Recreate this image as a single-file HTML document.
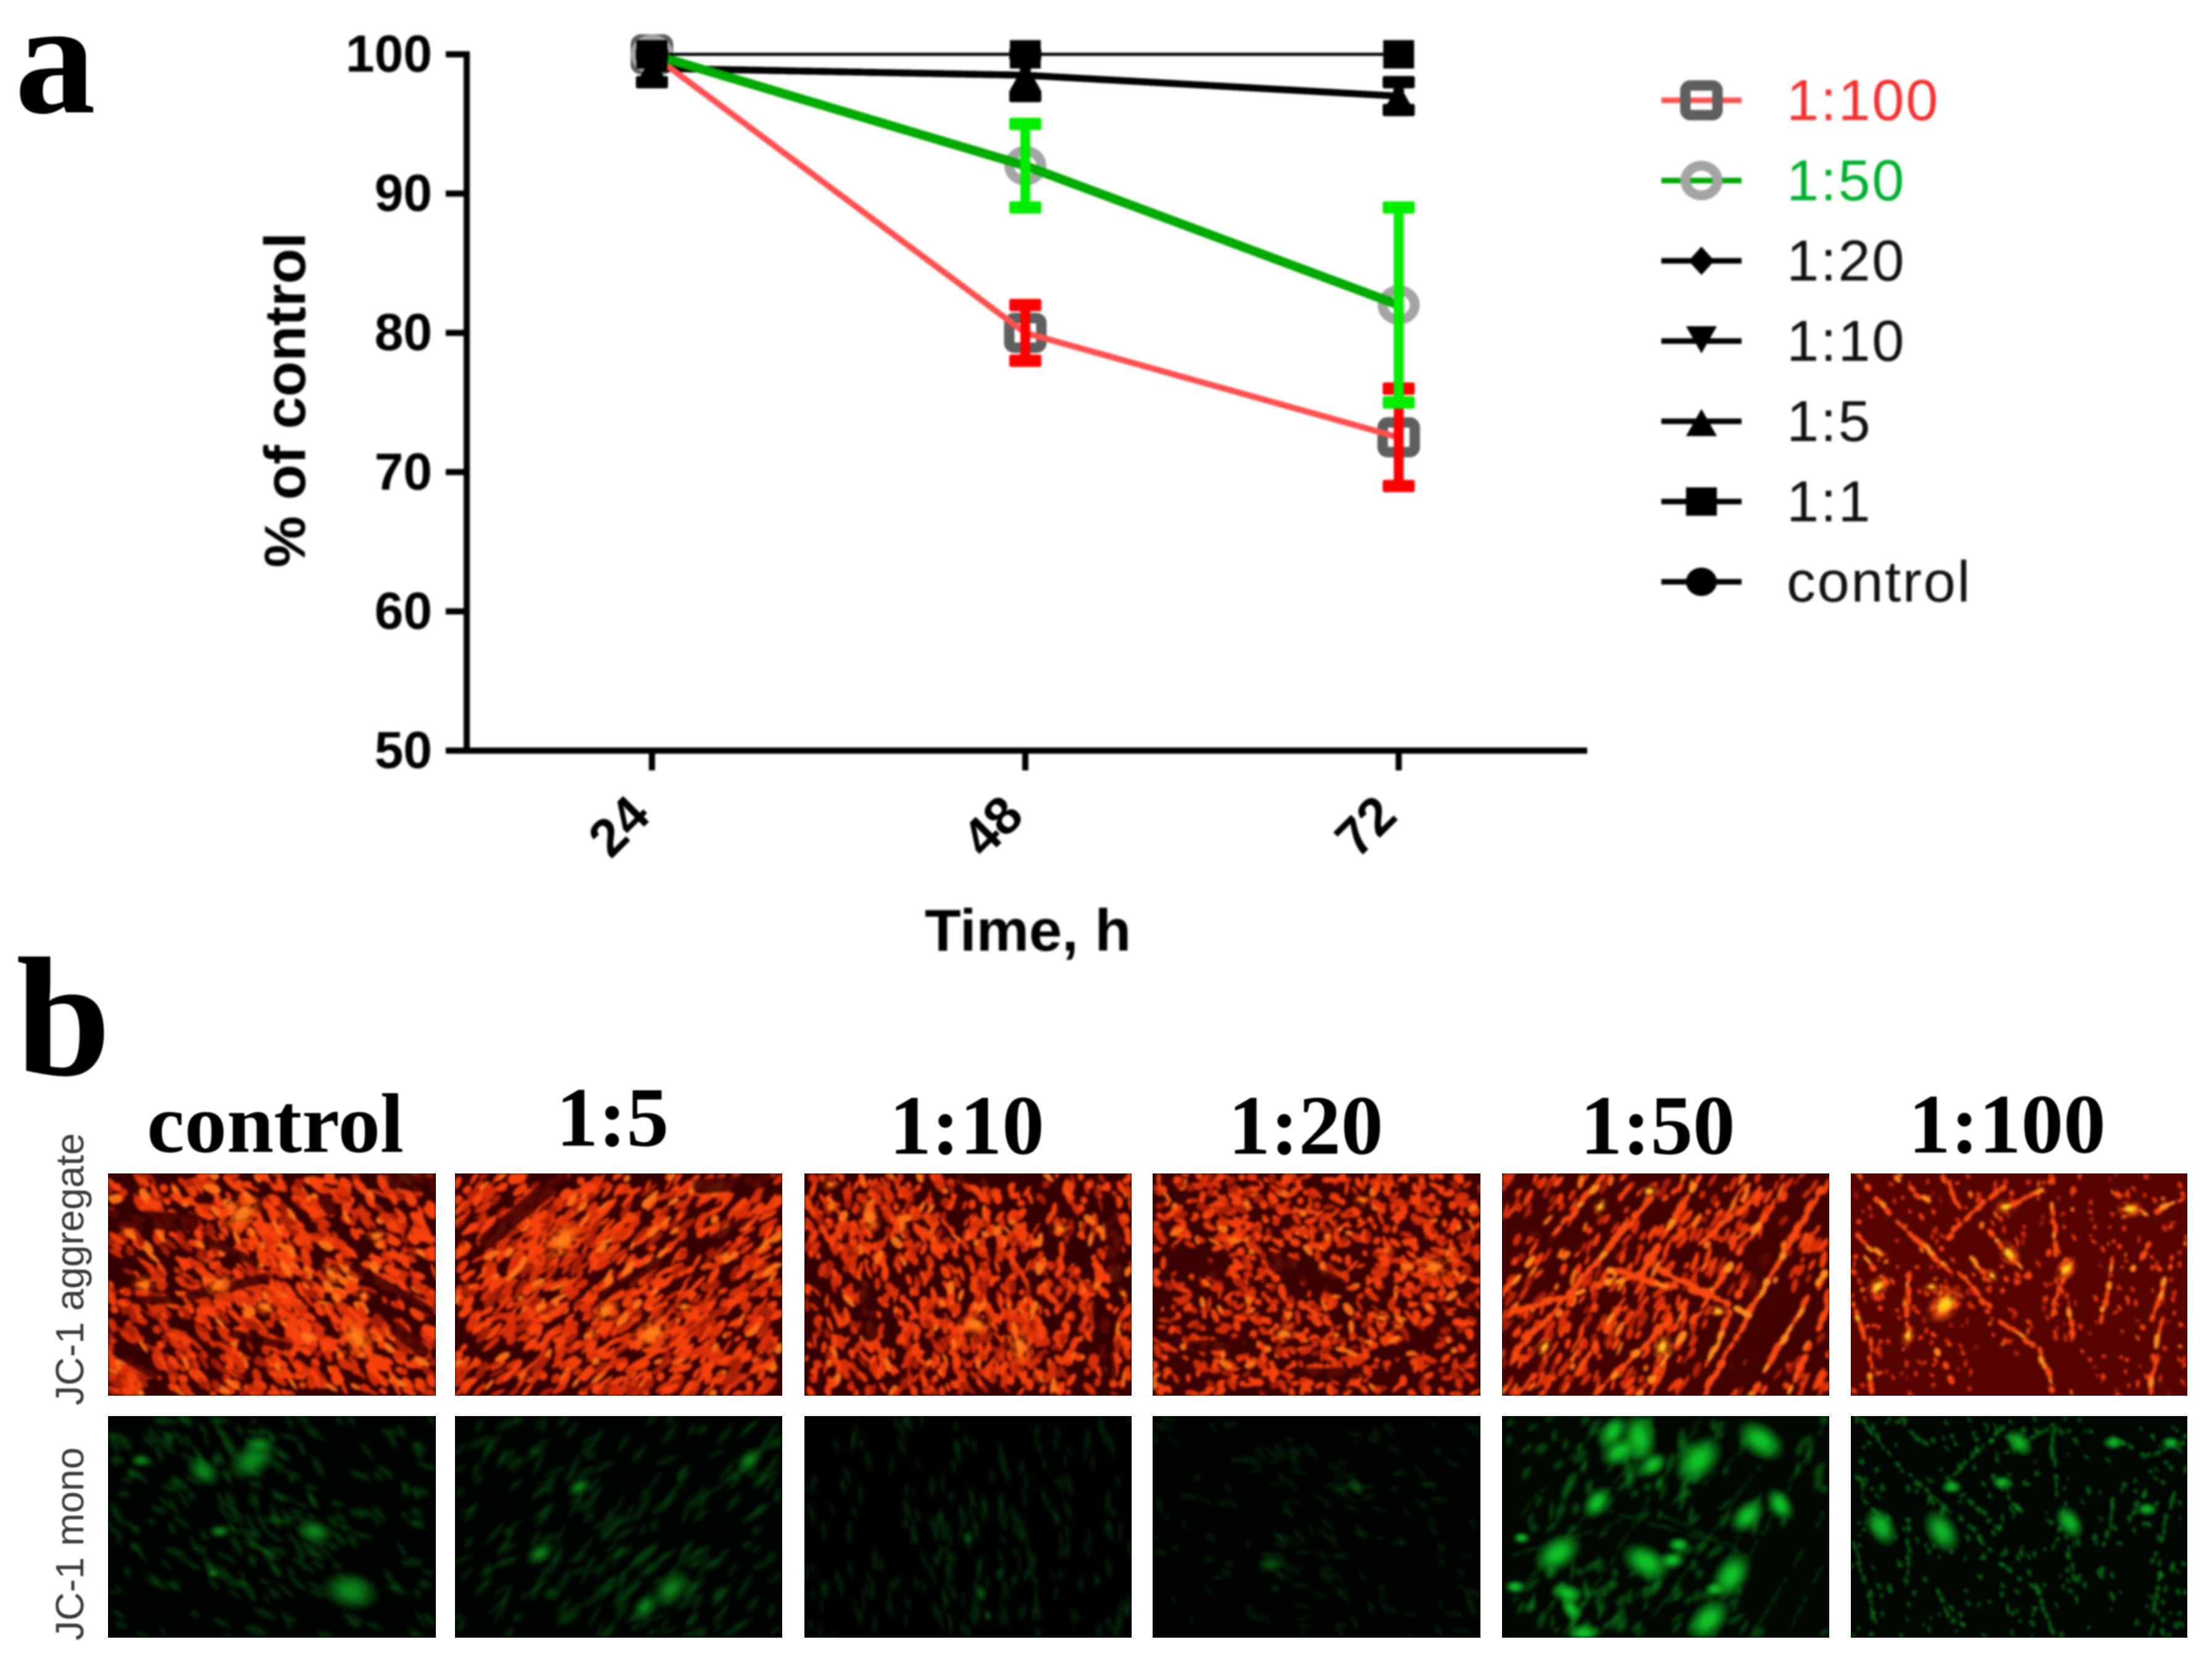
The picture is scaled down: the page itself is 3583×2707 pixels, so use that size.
<!DOCTYPE html>
<html lang="en">
<head>
<meta charset="utf-8">
<title>JC-1 mitochondrial potential chart and micrographs</title>
<style>
html,body{margin:0;padding:0;background:#fff;}
#page{position:relative;width:3583px;height:2707px;overflow:hidden;background:#fff;}
#chart,#labels{position:absolute;left:0;top:0;}
#chart{filter:blur(1.5px);}
#labels{filter:blur(1px);}
canvas{position:absolute;display:block;}
</style>
</head>
<body>
<div id="page">
<svg id="chart" width="3583" height="1620" viewBox="0 0 3583 1620" xmlns="http://www.w3.org/2000/svg"></svg>

<canvas class="mg" style="left:175px;top:1901px" width="531" height="360"></canvas>
<canvas class="mg" style="left:737px;top:1901px" width="530" height="360"></canvas>
<canvas class="mg" style="left:1303px;top:1901px" width="530" height="360"></canvas>
<canvas class="mg" style="left:1867px;top:1901px" width="531" height="360"></canvas>
<canvas class="mg" style="left:2433px;top:1901px" width="530" height="360"></canvas>
<canvas class="mg" style="left:2998px;top:1901px" width="545" height="360"></canvas>
<canvas class="mg" style="left:175px;top:2294px" width="531" height="359"></canvas>
<canvas class="mg" style="left:737px;top:2294px" width="530" height="359"></canvas>
<canvas class="mg" style="left:1303px;top:2294px" width="530" height="359"></canvas>
<canvas class="mg" style="left:1867px;top:2294px" width="531" height="359"></canvas>
<canvas class="mg" style="left:2433px;top:2294px" width="530" height="359"></canvas>
<canvas class="mg" style="left:2998px;top:2294px" width="545" height="359"></canvas>

<svg id="labels" width="3583" height="2707" viewBox="0 0 3583 2707" xmlns="http://www.w3.org/2000/svg">
  <g font-family="'Liberation Serif',serif" font-weight="700" fill="#000">
    <text x="24" y="182" font-size="262">a</text>
    <text x="26" y="1741" font-size="276">b</text>
    <g font-size="137" text-anchor="middle">
      <text x="446" y="1866">control</text>
      <text x="992" y="1856">1:5</text>
      <text x="1566" y="1869">1:10</text>
      <text x="2115" y="1869">1:20</text>
      <text x="2685" y="1869">1:50</text>
      <text x="3251" y="1867">1:100</text>
    </g>
  </g>
  <g font-family="'Liberation Sans',sans-serif" font-size="64" fill="#3c3c3c" text-anchor="middle">
    <text transform="translate(135 2056) rotate(-90)">JC-1 aggregate</text>
    <text transform="translate(135 2501) rotate(-90)">JC-1 mono</text>
  </g>
</svg>
</div>

<script>
/* ---------- chart data ---------- */
const timePoints = [24, 48, 72];
const yTicks = [50, 60, 70, 80, 90, 100];
const ratio100 = [100, 80, 72.5];
const ratio100Err = [0, 2, 3.5];
const ratio50 = [100, 92, 82];
const ratio50Err = [0, 3, 7];
const ratio20 = [99, 98.5, 97];
const ratio10 = [99, 98.5, 97];
const ratio5 = [99, 98.5, 97];
const ratio5Err = [1, 1.5, 1];
const ratio1 = [100, 100, 100];
const controlValues = [100, 100, 100];
const legendLabels = ['1:100', '1:50', '1:20', '1:10', '1:5', '1:1', 'control'];
const xAxisTitle = 'Time, h';
const yAxisTitle = '% of control';

/* ---------- axis functions ---------- */
const xScale = t => 1056 + (t - 24) * 25.2;
const yScale = v => 1216 - (v - 50) * 22.56;

const NS = 'http://www.w3.org/2000/svg';
const chart = document.getElementById('chart');
function mk(tag, attrs, parent) {
  const el = document.createElementNS(NS, tag);
  for (const k in attrs) el.setAttribute(k, attrs[k]);
  (parent || chart).appendChild(el);
  return el;
}

/* axes */
const axisLines = mk('g', {stroke: '#000', fill: 'none'});


const yAxisLine = mk('line', {x1: 756, x2: 756, y1: yScale(100) - 5, y2: yScale(50) + 5, 'stroke-width': 10}, axisLines);


const xAxisLine = mk('line', {x1: 722, x2: 2571, y1: yScale(50), y2: yScale(50), 'stroke-width': 10}, axisLines);



yTicks.forEach(v => {
  const tick = mk('line', {x1: 722, x2: 756, y1: yScale(v), y2: yScale(v), 'stroke-width': 10}, axisLines);
  
  
  const lab = mk('text', {x: 700, y: yScale(v) + 28, 'text-anchor': 'end', 'font-family': "'Liberation Sans',sans-serif", 'font-weight': 700, 'font-size': 84, fill: '#000', stroke: 'none'});
  lab.textContent = v;
  
  
});
timePoints.forEach(t => {
  const tick = mk('line', {x1: xScale(t), x2: xScale(t), y1: yScale(50), y2: 1248, 'stroke-width': 10}, axisLines);
  
  
  const lab = mk('text', {transform: 'translate(' + (xScale(t) - 54) + ' 1338) rotate(-45)', y: 30, 'text-anchor': 'middle', 'font-family': "'Liberation Sans',sans-serif", 'font-weight': 700, 'font-size': 86, fill: '#000'});
  lab.textContent = t;
  
  
});
const xTitle = mk('text', {x: 1665, y: 1540, 'text-anchor': 'middle', 'font-family': "'Liberation Sans',sans-serif", 'font-weight': 700, 'font-size': 96, fill: '#000'});
xTitle.textContent = xAxisTitle;


const yTitle = mk('text', {transform: 'translate(494 648) rotate(-90)', 'text-anchor': 'middle', 'font-family': "'Liberation Sans',sans-serif", 'font-weight': 700, 'font-size': 94, fill: '#000'});
yTitle.textContent = yAxisTitle;



/* markers */
function marker(type, x, y, scale, parent) {
  const s = scale || 1;
  let el;
  if (type === 'open-square') {
    el = mk('rect', {x: x - 26, y: y - 24, width: 52, height: 48, rx: 8, fill: 'none', stroke: '#5e5e5e', 'stroke-width': 17}, parent);
  } else if (type === 'open-circle') {
    el = mk('ellipse', {cx: x, cy: y, rx: 26, ry: 24, fill: 'none', stroke: '#a4a4a4', 'stroke-width': 16}, parent);
  } else if (type === 'diamond') {
    el = mk('polygon', {points: [x, y - 23 * s, x + 21 * s, y, x, y + 23 * s, x - 21 * s, y].join(' '), fill: '#000'}, parent);
  } else if (type === 'down') {
    el = mk('polygon', {points: [x - 25 * s, y - 24 * s, x + 25 * s, y - 24 * s, x, y + 20 * s].join(' '), fill: '#000'}, parent);
  } else if (type === 'up') {
    el = mk('polygon', {points: [x - 25 * s, y + 24 * s, x + 25 * s, y + 24 * s, x, y - 20 * s].join(' '), fill: '#000'}, parent);
  } else if (type === 'square') {
    el = mk('rect', {x: x - 25 * s, y: y - 23 * s, width: 50 * s, height: 46 * s, fill: '#000'}, parent);
  } else {
    el = mk('ellipse', {cx: x, cy: y, rx: 25 * s, ry: 23 * s, fill: '#000'}, parent);
  }
  return el;
}
function seriesLine(vals, color, width, name) {
  const pts = vals.map((v, i) => xScale(timePoints[i]) + ',' + yScale(v)).join(' ');
  const el = mk('polyline', {points: pts, fill: 'none', stroke: color, 'stroke-width': width, 'stroke-linejoin': 'round'});
  
  
}
function errorBars(vals, errs, color, name) {
  vals.forEach((v, i) => {
    if (!errs[i]) return;
    const x = xScale(timePoints[i]);
    const g = mk('g', {fill: color, stroke: 'none'});
    
    
    const top = yScale(v + errs[i]), bot = yScale(v - errs[i]);
    mk('rect', {x: x - 8, y: top, width: 16, height: bot - top}, g);
    mk('rect', {x: x - 26, y: top - 10, width: 52, height: 20, rx: 3}, g);
    mk('rect', {x: x - 26, y: bot - 10, width: 52, height: 20, rx: 3}, g);
  });
}
function seriesMarkers(vals, type, scale, name) {
  vals.forEach((v, i) => {
    const el = marker(type, xScale(timePoints[i]), yScale(v), scale);
    
    
  });
}

/* series, back to front */
seriesMarkers(ratio100, 'open-square', 1, 'marker-1-100');
seriesMarkers(ratio50, 'open-circle', 1, 'marker-1-50');
seriesLine(controlValues, '#000', 5, 'line-control');
seriesLine(ratio1, '#000', 5, 'line-1-1');
seriesLine(ratio20, '#000', 11, 'line-1-20');
seriesLine(ratio10, '#000', 11, 'line-1-10');
seriesLine(ratio5, '#000', 11, 'line-1-5');
seriesLine(ratio100, '#ff5050', 10, 'line-1-100');
errorBars(ratio100, ratio100Err, '#ff0000', 'error-bar-1-100');
seriesLine(ratio50, '#00aa00', 15, 'line-1-50');
errorBars(ratio50, ratio50Err, '#00ee00', 'error-bar-1-50');
errorBars(ratio5, ratio5Err, '#000', 'error-bar-1-5');
seriesMarkers(ratio20, 'diamond', 0.4, 'marker-1-20');
seriesMarkers(ratio10, 'down', 0.4, 'marker-1-10');
seriesMarkers(ratio5, 'up', 1, 'marker-1-5');
seriesMarkers(controlValues, 'circle', 0.9, 'marker-control');
seriesMarkers(ratio1, 'square', 1, 'marker-1-1');

/* legend */
const legendTypes = ['open-square', 'open-circle', 'diamond', 'down', 'up', 'square', 'circle'];
const legendLineColors = ['#ff5050', '#00aa00', '#000', '#000', '#000', '#000', '#000'];
const legendTextColors = ['#f43030', '#00b030', '#111', '#111', '#111', '#111', '#111'];
legendLabels.forEach((name, i) => {
  const y = 162.5 + i * 130;
  const g = mk('g', {});
  
  
  mk('line', {x1: 2691, x2: 2821, y1: y, y2: y, stroke: legendLineColors[i], 'stroke-width': 9}, g);
  marker(legendTypes[i], 2756, y, 1, g);
  const t = mk('text', {x: 2894, y: y + 32, 'letter-spacing': 2.5, 'font-family': "'Liberation Sans',sans-serif", 'font-size': 94, fill: legendTextColors[i]}, g);
  t.textContent = name;
});

/* ---------- micrograph textures (decorative, not chart data) ---------- */
function rng(seed) {
  return function () {
    seed |= 0; seed = seed + 0x6D2B79F5 | 0;
    let t = Math.imul(seed ^ seed >>> 15, 1 | seed);
    t = t + Math.imul(t ^ t >>> 7, 61 | t) ^ t;
    return ((t ^ t >>> 14) >>> 0) / 4294967296;
  };
}
const strands50 = [[0,.55,.3,.03],[.04,.82,.45,.12],[.2,.97,.6,.03],[.42,1,.8,.2],[.62,.98,.97,.08],[.76,1,.98,.45],[.88,.97,1,.6],[.3,.42,.62,.55],[.05,.62,.42,.45],[.5,.45,.75,.63],[.3,.98,.55,.6],[.62,.9,.72,.55],[.78,.1,.62,.3]];
const strands100 = [[.02,0,.11,.17],[.14,.22,.29,.43],[.33,.46,.41,.6],[.45,.67,.54,.77],[.56,.8,.6,.97],[.29,.28,.45,.06],[.42,.27,.5,.42],[.36,.39,.43,.5],[.6,.11,.61,.35],[.64,.4,.6,.62],[.65,.63,.66,.72],[.76,.54,.74,.73],[.78,.39,.77,.5],[.96,.35,.9,.65],[.92,.67,.89,.98],[.88,.33,.84,.43],[.01,.59,.04,.73],[.06,.76,.06,.98],[.26,.8,.3,.93],[.17,.47,.17,.74],[.03,.36,.1,.48],[.02,.28,.08,.36],[.46,.16,.6,.04],[.79,.1,.87,.18],[.14,.03,.22,.12],[.28,.03,.32,.15],[.91,.17,.98,.12]];
const panels = [
 {seed:11,type:'red',base:'#360000',ang:.75,jit:.5,n:2200,len:12,wid:6,p0:.36,blur:2,
  blobs:[[.42,.2,.13,.3],[.5,.62,.14,.3],[.75,.78,.12,.3],[.12,.6,.1,.1]],
  darks:[[0,.2,.25,.22,.055],[.25,.55,.48,.47,.03],[.08,.57,.22,.57,.025],[.38,.72,.55,.78,.025],[.66,.12,.68,.16,.04],[.75,.42,.98,.62,.03],[.88,.7,.96,.8,.04],[.03,.8,.14,.9,.035],[.88,.03,1,.06,.05],[.3,.3,.45,.4,.025]],
  hot:[[.41,.18,.05,-.7],[.82,.28,.025,0],[.76,.74,.05,.9],[.68,.45,.03,.8],[.48,.6,.03,.4],[.34,.5,.035,-.2],[.11,.5,.03,0],[.78,.55,.02,0]],hotA:'#ff5a10',hotB:'#ff7c1a'},
 {seed:22,type:'red',base:'#380000',ang:-.75,jit:.35,n:2300,len:13,wid:5.5,p0:.36,blur:2,
  blobs:[[.32,.32,.15,.3],[.62,.75,.18,.35],[.22,.68,.1,.2]],
  darks:[[.1,.3,.32,.02,.05],[.75,.06,.95,.03,.045],[.45,.55,.62,.4,.03],[.72,.35,.88,.22,.025]],
  hot:[[.33,.3,.05,-.7],[.6,.72,.05,-.6],[.46,.62,.035,-.7],[.7,.6,.02,0],[.2,.56,.015,0]],hotA:'#ff5a10',hotB:'#ff7c1a'},
 {seed:33,type:'red',base:'#360000',ang:1.45,jit:.8,n:2400,len:10,wid:5.5,p0:.36,blur:2,
  blobs:[[.56,.72,.17,.42],[.2,.2,.12,.25],[.5,.25,.1,.1]],
  darks:[[.19,.5,.2,.72,.05],[.93,.12,.96,.5,.045],[.9,.6,.93,.9,.045],[.48,.02,.6,.05,.03]],
  hot:[[.2,.2,.035,1.2],[.52,.68,.04,0],[.66,.78,.04,1.4],[.08,.05,.02,0],[.78,.25,.025,0]],hotA:'#ff5a10',hotB:'#ff7c1a'},
 {seed:44,type:'red',base:'#3a0200',ang:.5,jit:1.3,n:2100,len:9,wid:5.5,p0:.36,blur:2,
  blobs:[[.85,.42,.13,.35],[.62,.15,.17,.25],[.15,.1,.14,.15],[.45,.72,.18,.15]],
  darks:[[.38,.4,.55,.5,.06],[.12,.78,.3,.76,.035],[.48,.9,.62,.9,.035],[.08,.35,.2,.45,.045]],
  hot:[[.86,.42,.035,0],[.64,.12,.02,0],[.4,.72,.03,0],[.7,.65,.02,0]],hotA:'#ff5a10',hotB:'#ff7c1a'},
 {seed:55,type:'red',base:'#420300',ang:-1.05,jit:.3,n:1300,len:11,wid:4.5,p0:.4,blur:2,strands:strands50,beadL:11,beadW:5,
  blobs:[[.35,.62,.14,.35],[.2,.85,.12,.3],[.6,.2,.1,.2],[.82,.68,.16,-.42],[.16,.28,.1,-.3]],
  darks:[[.82,.35,.68,.95,.07],[.1,.25,.22,.32,.05]],
  hot:[[.66,.62,.02,0],[.49,.78,.028,-1],[.13,.78,.022,-1],[.3,.15,.02,-1],[.45,.08,.02,0]],hotA:'#ff7a18',hotB:'#ffc424'},
 {seed:66,type:'red',base:'#560400',ang:1.2,jit:.6,n:800,len:5,wid:3.6,p0:.4,blur:2,strands:strands100,beadL:8,beadW:4,
  blobs:[[.3,.55,.14,.25],[.62,.55,.1,.25],[.5,.12,.12,.3],[.5,.85,.14,-.32],[.12,.25,.08,-.18],[.92,.75,.1,.2]],
  hot:[[.28,.59,.045,-.8],[.24,.51,.018,0],[.64,.43,.03,-.9],[.17,.73,.022,-1.2],[.08,.51,.03,-.8],[.83,.16,.028,0],[.46,.15,.025,0],[.47,.36,.03,.9],[.02,.65,.016,1.2],[.42,.46,.018,.8]],hotA:'#ff5a12',hotB:'#ffcc20'},
 {seed:77,type:'g',base:'#000400',col:'#0c7016',alpha:.34,ang:.7,jit:.5,n:900,len:18,wid:7,p0:.3,blur:2.5,
  blobs:[[.42,.22,.1,.4],[.6,.52,.14,.2],[.72,.78,.1,.2],[.9,.75,.2,-.25],[.95,.1,.12,-.2],[.1,.85,.18,-.15]],
  hot:[[.29,.25,.035,.6],[.44,.2,.05,-.5],[.46,.13,.03,0],[.63,.52,.035,.35],[.32,.71,.012,0],[.74,.79,.055,.2],[.1,.2,.02,0],[.34,.52,.02,0]],hotA:'#0a6c14',hotB:'#0f8f1e'},
 {seed:88,type:'g',base:'#000400',col:'#0a5f14',alpha:.34,ang:-.75,jit:.4,n:800,len:22,wid:7,p0:.24,blur:2.5,
  blobs:[[.6,.72,.14,.35],[.28,.6,.08,.25],[.88,.22,.08,.25],[.4,.3,.1,.15]],
  hot:[[.26,.62,.03,-.6],[.66,.78,.045,-.8],[.58,.86,.03,-.8],[.9,.2,.03,-.8],[.38,.32,.025,-.5]],hotA:'#09600f',hotB:'#0f8a1c'},
 {seed:99,type:'g',base:'#000200',col:'#0a5414',alpha:.32,ang:1.45,jit:.3,n:800,len:18,wid:6,p0:.2,blur:2.5,
  blobs:[[.55,.7,.16,.3],[.4,.5,.2,.1]],
  hot:[[.54,.8,.018,1.4],[.56,.9,.012,1.4],[.5,.55,.015,1.4]],hotA:'#07420d',hotB:'#0b6415'},
 {seed:111,type:'g',base:'#000300',col:'#08490f',alpha:.32,ang:.5,jit:.7,n:700,len:16,wid:6,p0:.18,blur:2.5,
  blobs:[[.38,.66,.1,.3],[.6,.35,.12,.25],[.85,.2,.1,.1]],
  hot:[[.36,.67,.025,0],[.62,.32,.02,.7]],hotA:'#06400c',hotB:'#0a5412'},
 {seed:122,type:'g',base:'#000800',col:'#0e8a1c',alpha:.42,ang:-1.0,jit:.5,n:600,len:16,wid:8,p0:.18,blur:2.5,strands:strands50,beadL:11,beadW:3,strandA:.26,
  blobs:[[.35,.15,.14,.35],[.6,.3,.13,.3],[.3,.75,.16,.35],[.25,.92,.1,.3],[.62,.85,.08,.2],[.9,.7,.18,-.2]],
  hot:[[.34,.07,.035,-1],[.42,.1,.05,1.4],[.36,.16,.04,-.5],[.6,.2,.055,-.8],[.79,.11,.05,.6],[.46,.22,.03,-.7],[.29,.39,.035,-.9],[.44,.66,.05,.5],[.52,.65,.025,0],[.54,.58,.022,0],[.2,.8,.03,.3],[.21,.87,.025,1],[.04,.77,.02,0],[.06,.55,.017,0],[.25,.98,.03,0],[.7,.72,.05,-1],[.63,.92,.05,-.8],[.85,.4,.035,1],[.75,.45,.04,-.8],[.17,.62,.05,-.6],[.65,.78,.02,0]],hotA:'#0ea820',hotB:'#12d030'},
 {seed:133,type:'g',base:'#000600',col:'#108c20',alpha:.55,ang:1.2,jit:.6,n:600,len:7,wid:5,p0:.4,blur:2.2,strands:strands100,beadL:8,beadW:3.5,strandA:.6,
  blobs:[[.3,.55,.14,.25],[.5,.1,.12,.25],[.68,.5,.12,.2],[.1,.5,.08,.2]],
  hot:[[.09,.5,.04,1],[.27,.52,.045,1],[.45,.3,.02,0],[.65,.48,.035,1],[.95,.12,.018,0],[.78,.12,.02,0],[.5,.12,.03,.8],[.3,.32,.02,0],[.88,.42,.02,0]],hotA:'#0e9a20',hotB:'#14bc2c'}
];
function gauss(u, v, b) {
  const du = u - b[0], dv = v - b[1];
  return b[3] * Math.exp(-(du * du + dv * dv) / (2 * b[2] * b[2]));
}
document.querySelectorAll('canvas.mg').forEach((cv, idx) => {
  const P = panels[idx], W = cv.width, H = cv.height, r = rng(P.seed);
  const off = document.createElement('canvas');
  off.width = W; off.height = H;
  const c = off.getContext('2d');
  const isRed = P.type === 'red';
  c.fillStyle = P.base;
  c.fillRect(0, 0, W, H);
  const blob = (x, y, l, w, a, color, alpha) => {
    c.globalAlpha = alpha;
    c.fillStyle = color;
    c.beginPath();
    c.ellipse(x, y, l, w, a, 0, Math.PI * 2);
    c.fill();
  };
  const soft = (x, y, l, w, a, color, alpha) => {
    c.save();
    c.globalAlpha = alpha;
    c.translate(x, y);
    c.rotate(a);
    c.scale(l, w);
    const g = c.createRadialGradient(0, 0, 0, 0, 0, 1);
    g.addColorStop(0, color);
    g.addColorStop(.45, color);
    g.addColorStop(1, color + '00');
    c.fillStyle = g;
    c.beginPath();
    c.arc(0, 0, 1, 0, Math.PI * 2);
    c.fill();
    c.restore();
  };
  for (let i = 0; i < P.n; i++) {
    const u = r(), v = r();
    let p = P.p0;
    P.blobs.forEach(b => { p += gauss(u, v, b); });
    if (r() > p) continue;
    const a = P.ang + (r() - .5) * P.jit * 2;
    const l = P.len * (.5 + r() * .9), w = P.wid * (.5 + r() * .8);
    if (isRed) {
      const k = r();
      const col = k < .1 ? '#ff7418' : (k < .55 ? '#f8420e' : (k < .85 ? '#d8300a' : '#a82006'));
      blob(u * W, v * H, l, w, a, col, .95);
    } else {
      soft(u * W, v * H, l, w, a, P.col, P.alpha);
    }
  }
  (P.darks || []).forEach(d => {
    c.globalAlpha = .82;
    c.strokeStyle = P.base;
    c.lineCap = 'round';
    c.lineWidth = d[4] * W;
    c.beginPath();
    c.moveTo(d[0] * W, d[1] * H);
    c.lineTo(d[2] * W, d[3] * H);
    c.stroke();
  });
  (P.strands || []).forEach(s => {
    const dx = (s[2] - s[0]) * W, dy = (s[3] - s[1]) * H, L = Math.hypot(dx, dy), a = Math.atan2(dy, dx);
    const n = Math.max(2, Math.floor(L / (P.beadL * 1.5)));
    for (let i = 0; i <= n; i++) {
      if (r() < .14) continue;
      const t = i / n, x = s[0] * W + dx * t + (r() - .5) * 5, y = s[1] * H + dy * t + (r() - .5) * 5;
      const l = P.beadL * (.7 + r() * .6), w = P.beadW * (.7 + r() * .7);
      if (isRed) {
        blob(x, y, l, w, a, r() < .25 ? '#ff8a1e' : '#f84a10', 1);
      } else {
        soft(x, y, l, w * 1.3, a, P.col, P.strandA || .6);
      }
    }
  });
  (P.hot || []).forEach(h => {
    const rad = h[2] * W, a = h[3] || 0;
    if (isRed) {
      soft(h[0] * W, h[1] * H, rad * 1.5, rad * 1, a, P.hotA, 1);
      const clump = Math.round(rad * .8) + 2;
      for (let k = 0; k < clump; k++) {
        const ox = (r() - .5) * rad * 2.4, oy = (r() - .5) * rad * 1.6;
        blob(h[0] * W + ox, h[1] * H + oy, 3 + r() * 4, 2 + r() * 2, a, P.base, .55);
      }
      soft(h[0] * W, h[1] * H, rad * .8, rad * .5, a, P.hotB, 1);
    } else {
      soft(h[0] * W, h[1] * H, rad * 1.7, rad * 1.1, a, P.hotA, .85);
      soft(h[0] * W, h[1] * H, rad * .8, rad * .5, a, P.hotB, .75);
    }
  });
  c.globalAlpha = 1;
  const ctx = cv.getContext('2d');
  ctx.fillStyle = P.base;
  ctx.fillRect(0, 0, W, H);
  ctx.filter = 'blur(' + P.blur + 'px)';
  ctx.drawImage(off, 0, 0);
  ctx.filter = 'none';
});
</script>
</body>
</html>
